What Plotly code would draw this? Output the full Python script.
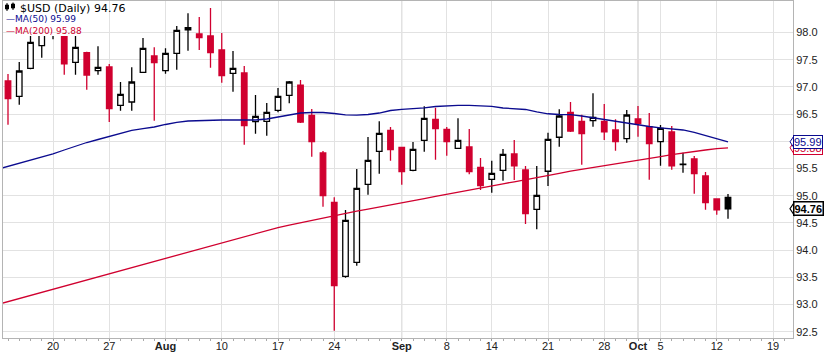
import pandas as pd
import plotly.graph_objects as go

# ---------------- data ----------------
first_day = "2015-07-14"
last_day = "2015-10-13"
ma_first_day = "2015-07-13"
holidays = ["2015-09-07"]

open_ = [97.108, 96.827, 97.342, 97.757, 98.12, 98.05, 97.452, 97.629, 97.298, 97.366,
         96.662, 96.722, 97.268, 97.568, 97.298, 97.618, 98.09, 97.972, 97.936, 97.678,
         97.25, 97.256, 96.36, 96.368, 96.57, 96.846, 97.03, 96.478, 95.785, 94.879,
         93.518, 93.776, 95.21, 95.816, 96.202, 95.89, 95.467, 96.018, 96.404, 96.221,
         95.871, 95.895, 95.522, 95.301, 95.467, 95.767, 95.472, 94.75, 95.449, 96.074,
         96.533, 96.368, 96.379, 96.368, 96.208, 96.048, 96.41, 96.268, 95.993, 96.171,
         95.57, 95.675, 95.362, 94.939, 94.971]
high = [97.237, 97.458, 97.936, 98.23, 98.33, 98.14, 97.936, 97.647, 97.746, 97.421,
        97.09, 97.36, 97.899, 97.728, 97.71, 98.12, 98.353, 98.285, 98.45, 97.99,
        97.66, 97.384, 96.851, 96.704, 96.98, 97.108, 97.127, 96.594, 95.822, 94.971,
        94.737, 95.491, 96.079, 96.368, 96.263, 95.89, 95.987, 96.643, 96.618, 96.263,
        96.423, 96.226, 95.693, 95.643, 95.858, 96.024, 95.546, 95.546, 96.158, 96.588,
        96.722, 96.489, 96.882, 96.686, 96.404, 96.575, 96.649, 96.52, 96.3, 96.281,
        95.79, 95.73, 95.436, 94.94, 95.031]
low = [96.305, 96.673, 97.324, 97.537, 97.875, 97.224, 97.224, 96.949, 97.224, 96.355,
       96.562, 96.562, 97.26, 96.379, 97.243, 97.316, 97.665, 97.678, 97.353, 97.077,
       96.912, 95.937, 96.14, 96.103, 96.533, 96.699, 96.336, 95.717, 94.798, 92.518,
       93.493, 93.713, 95.018, 95.404, 95.643, 95.202, 95.449, 95.809, 95.662, 95.735,
       95.87, 95.393, 95.105, 95.055, 95.276, 95.289, 94.48, 94.382, 95.178, 95.9,
       96.171, 95.57, 96.268, 96.024, 95.827, 95.974, 96.085, 95.294, 95.551, 95.478,
       95.423, 95.037, 94.743, 94.651, 94.577]
close = [96.783, 97.292, 97.82, 98.08, 98.2, 97.426, 97.728, 97.219, 97.36, 96.599,
         96.864, 97.09, 97.71, 97.445, 97.618, 98.04, 98.05, 97.904, 97.629, 97.206,
         97.342, 96.287, 96.46, 96.533, 96.827, 97.09, 96.355, 95.993, 95.0, 93.346,
         94.548, 95.136, 95.651, 96.147, 95.846, 95.441, 95.853, 96.423, 96.232, 95.993,
         96.018, 95.441, 95.184, 95.412, 95.761, 95.551, 94.669, 95.007, 96.037, 96.465,
         96.189, 96.14, 96.441, 96.176, 95.993, 96.483, 96.324, 95.956, 96.239, 95.551,
         95.58, 95.404, 94.871, 94.74, 94.76]
close_before_first = 97.25

ma50 = [95.482, 95.537, 95.592, 95.647, 95.702, 95.767, 95.84, 95.914, 95.978, 96.033, 96.088,
        96.153, 96.199, 96.235, 96.263, 96.309, 96.349, 96.373, 96.382, 96.386, 96.392,
        96.392, 96.392, 96.392, 96.41, 96.447, 96.483, 96.52, 96.529, 96.529, 96.511,
        96.487, 96.48, 96.493, 96.52, 96.566, 96.588, 96.597, 96.616, 96.64, 96.653,
        96.662, 96.662, 96.658, 96.643, 96.612, 96.597, 96.585, 96.539, 96.506, 96.493,
        96.489, 96.465, 96.434, 96.401, 96.364, 96.327, 96.3, 96.272, 96.248, 96.23,
        96.208, 96.162, 96.107, 96.051, 95.99]
ma200 = [92.996, 93.053, 93.11, 93.166, 93.223, 93.28, 93.337, 93.393, 93.45, 93.507, 93.563,
         93.62, 93.677, 93.734, 93.79, 93.847, 93.904, 93.961, 94.017, 94.074, 94.131,
         94.188, 94.244, 94.301, 94.358, 94.415, 94.46, 94.504, 94.548, 94.59, 94.634,
         94.676, 94.717, 94.754, 94.79, 94.829, 94.866, 94.906, 94.947, 94.987, 95.028,
         95.068, 95.108, 95.145, 95.182, 95.219, 95.256, 95.292, 95.331, 95.371, 95.41,
         95.45, 95.482, 95.515, 95.546, 95.579, 95.612, 95.647, 95.684, 95.719, 95.754,
         95.787, 95.814, 95.84, 95.866, 95.88]

tick_dates = ["2015-07-20", "2015-07-27", "2015-08-03", "2015-08-10", "2015-08-17",
              "2015-08-24", "2015-09-01", "2015-09-08", "2015-09-14", "2015-09-21",
              "2015-09-28", "2015-10-01", "2015-10-05", "2015-10-12", "2015-10-19"]
tick_text = ["20", "27", "<b>Aug</b>", "10", "17", "24", "<b>Sep</b>", "8", "14", "21",
             "28", "<b>Oct</b>", "5", "12", "19"]
month_dates = ["2015-08-03", "2015-09-01", "2015-10-01"]
y_ticks = [92.5, 93.0, 93.5, 94.0, 94.5, 95.0, 95.5, 96.0, 96.5, 97.0, 97.5, 98.0]

# ---------------- styles ----------------
RED = "#d0002f"
BLACK = "#000000"
BLUE = "#0b0b8f"
GRID = "#e2e2e2"
MONTH_GRID = "#c4c4c4"
FRAME = "#b4b4b4"

# trading-day positions (no gaps for weekends / holidays)
cal = [d.strftime("%Y-%m-%d") for d in pd.bdate_range("2015-07-01", "2015-10-31")]
cal = [d for d in cal if d not in holidays]
pos = {d: i for i, d in enumerate(cal)}
base = pos[first_day]
def xi(d):
    return pos[d] - base

candle_dates = cal[pos[first_day]:pos[last_day] + 1]
cx = [xi(d) for d in candle_dates]
ma_dates = cal[pos[ma_first_day]:pos[last_day] + 1]
mx = [xi(d) for d in ma_dates]

fig = go.Figure()

# group candles: hollow/filled by close vs open; red/black by close vs previous close
groups = {}
for i in range(len(close)):
    prev = close[i - 1] if i > 0 else close_before_first
    filled = close[i] < open_[i]
    red = close[i] < prev
    groups.setdefault((filled, red), []).append(i)

for (filled, red), idx in groups.items():
    col = RED if red else BLACK
    fill = col if filled else "white"
    style = dict(fillcolor=fill, line=dict(color=col, width=1.3))
    fig.add_trace(go.Candlestick(
        x=[cx[i] for i in idx], open=[open_[i] for i in idx], high=[high[i] for i in idx],
        low=[low[i] for i in idx], close=[close[i] for i in idx],
        increasing=style, decreasing=style, whiskerwidth=0,
        hoverinfo="skip", showlegend=False))

fig.add_trace(go.Scatter(x=mx, y=ma200, mode="lines", line=dict(color=RED, width=1.3),
                         hoverinfo="skip", showlegend=False))
fig.add_trace(go.Scatter(x=mx, y=ma50, mode="lines", line=dict(color=BLUE, width=1.3),
                         hoverinfo="skip", showlegend=False))

W, H = 826, 353
ML, MR, MT, MB = 3, 33, 1, 15
px_per_day = 11.25
first_px = 8  # pixel of first candle
x_lo = (ML - first_px) / px_per_day
x_hi = (W - MR - first_px) / px_per_day

shapes = []
for d in month_dates:
    shapes.append(dict(type="line", xref="x", yref="paper", x0=xi(d), x1=xi(d), y0=0, y1=1,
                       line=dict(color=MONTH_GRID, width=1), layer="between"))
# legend background
shapes.append(dict(type="rect", xref="paper", yref="paper", xsizemode="pixel", ysizemode="pixel",
                   xanchor=0, yanchor=1, x0=0, x1=79, y0=0, y1=-35,
                   fillcolor="white", line=dict(width=0), layer="above"))
shapes.append(dict(type="line", xref="paper", yref="y", xsizemode="pixel",
                   xanchor=0, x0=0, x1=79, y0=98.0, y1=98.0,
                   line=dict(color=GRID, width=1), layer="above"))
# legend icon (mini candles)
for (a, b, c, d_, wt, wb) in [(2.5, 5.5, -4, -8, -2, -10), (8.5, 11.5, -3, -7, -1.5, -9)]:
    m = (a + b) / 2
    shapes.append(dict(type="line", xref="paper", yref="paper", xsizemode="pixel", ysizemode="pixel",
                       xanchor=0, yanchor=1, x0=m, x1=m, y0=wt, y1=wb,
                       line=dict(color="black", width=1), layer="above"))
    shapes.append(dict(type="rect", xref="paper", yref="paper", xsizemode="pixel", ysizemode="pixel",
                       xanchor=0, yanchor=1, x0=a, x1=b, y0=c, y1=d_,
                       fillcolor="black", line=dict(color="black", width=1), layer="above"))

annotations = [
    dict(xref="paper", yref="paper", x=0, y=1, xanchor="left", yanchor="middle",
         xshift=15, yshift=-7, showarrow=False,
         text=f"$USD (Daily) {close[-1]:.2f}",
         font=dict(family="DejaVu Sans", size=11, color="black")),
    dict(xref="paper", yref="paper", x=0, y=1, xanchor="left", yanchor="middle",
         xshift=1, yshift=-18, showarrow=False,
         text=f"—MA(50) {ma50[-1]:.2f}",
         font=dict(family="DejaVu Sans", size=9, color=BLUE)),
    dict(xref="paper", yref="paper", x=0, y=1, xanchor="left", yanchor="middle",
         xshift=1, yshift=-30, showarrow=False,
         text=f"—MA(200) {ma200[-1]:.2f}",
         font=dict(family="DejaVu Sans", size=9, color=RED)),
]

# right-side value flags
for val, col, bold in [(ma200[-1], RED, False), (ma50[-1], BLUE, False), (close[-1], BLACK, True)]:
    shapes.append(dict(type="path", xref="paper", yref="y", xsizemode="pixel", ysizemode="pixel",
                       xanchor=1, yanchor=val, path="M 1,6 L -3,0 L 1,-6 Z",
                       fillcolor="white", line=dict(color=col, width=1.2 if bold else 1), layer="above"))
    txt = f"{val:.2f}"
    annotations.append(dict(xref="paper", yref="y", x=1, y=val, xanchor="left", yanchor="middle",
                            xshift=0, showarrow=False,
                            text=f"<b>{txt}</b>" if bold else txt,
                            font=dict(family="Liberation Sans", size=11, color=col),
                            bgcolor="white", bordercolor=col, borderwidth=1.5 if bold else 1,
                            borderpad=0))

y_lo = 98.0 - (H - MB - 32.5) / 54.4
y_hi = 98.0 + (32.5 - MT) / 54.4

fig.update_layout(
    width=W, height=H,
    margin=dict(l=ML, r=MR, t=MT, b=MB, pad=0, autoexpand=False),
    paper_bgcolor="white", plot_bgcolor="white",
    showlegend=False,
    shapes=shapes, annotations=annotations,
    xaxis=dict(range=[x_lo, x_hi], tickmode="array", automargin=False,
               tickvals=[xi(d) for d in tick_dates], ticktext=tick_text,
               tickfont=dict(family="Liberation Sans Narrow, Liberation Sans", size=11, color="#222"),
               showgrid=True, gridcolor=GRID, gridwidth=1,
               ticks="outside", ticklen=2, tickcolor="#999", ticklabelstandoff=-4,
               minor=dict(dtick=1, tick0=0, ticks="outside", ticklen=2, tickcolor="#aaa", showgrid=False),
               showline=True, linecolor=FRAME, linewidth=1, mirror=True,
               zeroline=False, rangeslider=dict(visible=False), fixedrange=True),
    yaxis=dict(range=[y_lo, y_hi], side="right", tickmode="array", automargin=False,
               tickvals=y_ticks, ticktext=[f"{v:.1f}" for v in y_ticks],
               tickfont=dict(family="Liberation Sans", size=11, color="#222"),
               showgrid=True, gridcolor=GRID, gridwidth=1, ticks="",
               showline=True, linecolor=FRAME, linewidth=1, mirror=True,
               zeroline=False, fixedrange=True),
)

fig.write_html("out.html")
